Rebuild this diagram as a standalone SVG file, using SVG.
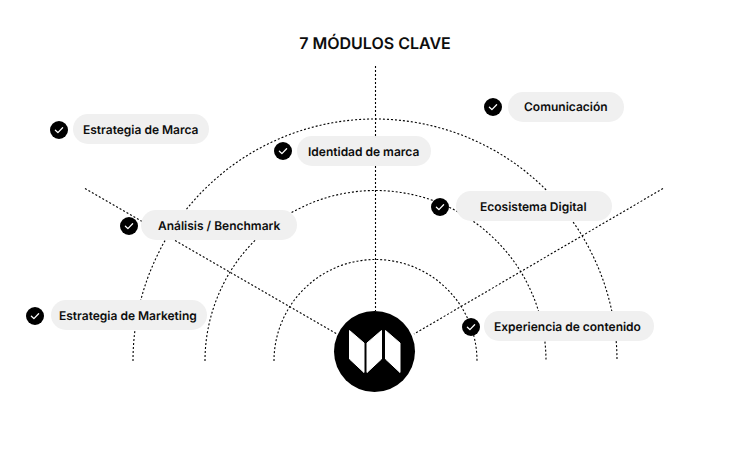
<svg xmlns="http://www.w3.org/2000/svg" width="750" height="450" viewBox="0 0 750 450">
<style>
text{font-family:Inter,"Liberation Sans",sans-serif;fill:#0d0d0d;text-rendering:geometricPrecision}
.l{font-size:12px;font-weight:600}
.t{font-size:16px;font-weight:600}
.p{fill:#f0f0f0}
.d{fill:none;stroke:#000;stroke-width:1.1;stroke-dasharray:2 2}
.c{fill:#000}
.k{fill:none;stroke:#fff;stroke-width:1.3;stroke-linecap:round;stroke-linejoin:round}
</style>
<defs>
<g id="chk"><circle class="c" r="9"/><path class="k" d="M-3.600 0.200L-1.100 2.600L3.600-2.200"/></g>
</defs>
<rect width="750" height="450" fill="#fff"/>
<text id="title" class="t" x="375" y="49" text-anchor="middle">7 MÓDULOS CLAVE</text>
<g id="connectors">
<path class="d" d="M133 361A242 242 0 0 1 617 361"/>
<path class="d" d="M205 361A170.500 170.500 0 0 1 546 361"/>
<path class="d" d="M274 361A101.500 101.500 0 0 1 477 361"/>
<path class="d" d="M375.500 66V311"/>
<path class="d" d="M85 188.500L337 334"/>
<path class="d" d="M663 188.500L414 334"/>
</g>
<g id="logo">
<circle class="c" cx="374.500" cy="351.500" r="40.500"/>
<path fill="#fff" stroke="#fff" stroke-linejoin="round" d="M349.500 330.500L364 343V372.500L349.500 359Z"/>
<path fill="#fff" stroke="#fff" stroke-linejoin="round" d="M367 343L381.500 330.500V359L367 372.500Z"/>
<path fill="#fff" stroke="#fff" stroke-linejoin="round" d="M385.500 330.500L400 343V372.500L385.500 359Z"/>
</g>
<g id="n-marca"><rect class="p" x="73" y="114" width="136" height="30" rx="15"/><use href="#chk" x="59" y="130"/><text class="l" x="83" y="134">Estrategia de Marca</text></g>
<g id="n-analisis"><rect class="p" x="141" y="210" width="156" height="30" rx="15"/><use href="#chk" x="129" y="226"/><text class="l" x="158" y="230">Análisis / Benchmark</text></g>
<g id="n-identidad"><rect class="p" x="297" y="136" width="134" height="30" rx="15"/><use href="#chk" x="283" y="151"/><text class="l" x="308" y="156">Identidad de marca</text></g>
<g id="n-comunicacion"><rect class="p" x="508" y="92" width="116" height="30" rx="15"/><use href="#chk" x="493" y="107"/><text class="l" x="524" y="111">Comunicación</text></g>
<g id="n-ecosistema"><rect class="p" x="456" y="191" width="156" height="30" rx="15"/><use href="#chk" x="440" y="207"/><text class="l" x="480" y="211">Ecosistema Digital</text></g>
<g id="n-marketing"><rect class="p" x="51" y="300" width="156" height="30" rx="15"/><use href="#chk" x="35" y="316"/><text class="l" x="59" y="320">Estrategia de Marketing</text></g>
<g id="n-experiencia"><rect class="p" x="484" y="311" width="170" height="30" rx="15"/><use href="#chk" x="471" y="327"/><text class="l" x="494" y="331">Experiencia de contenido</text></g>
</svg>
